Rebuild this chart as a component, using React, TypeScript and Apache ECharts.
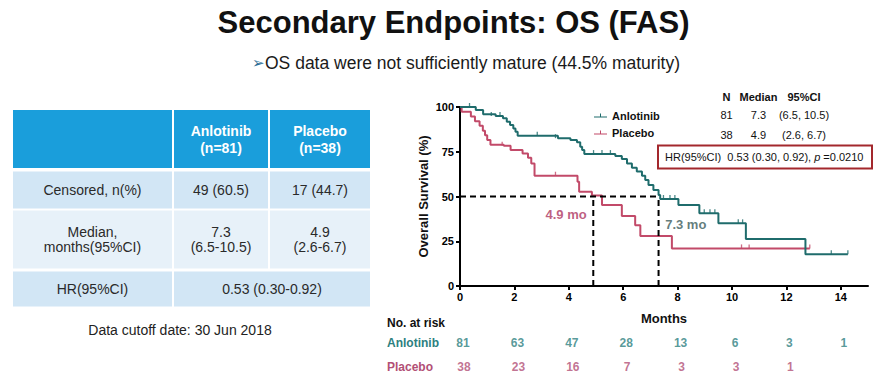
import React, { useEffect, useRef } from "react";
import * as echarts from "echarts";

const FONT = '"Liberation Sans", Arial, Helvetica, sans-serif';

// Kaplan-Meier curves [months, survival %]
const anlotinibCurve: number[][] = [
  [0, 100], [0.58, 98.3], [0.85, 96], [1.31, 95], [1.58, 93.7], [1.72, 91.8], [1.84, 90],
  [1.96, 88], [2.04, 86.2], [2.12, 84], [3.6, 82.6], [4.06, 81.6], [4.3, 80.3], [4.42, 77.8],
  [4.49, 76], [4.57, 73.7], [5.71, 72.6], [5.95, 71], [6.14, 68.5], [6.32, 66], [6.5, 63.9],
  [6.69, 61.6], [6.81, 59.2], [6.93, 56.4], [7.11, 53.6], [7.3, 50.8], [7.36, 48.6],
  [8.03, 45.2], [8.8, 40.6], [9.5, 35], [10.51, 26.3], [12.7, 17.7], [14.26, 17.7],
];
const placeboCurve: number[][] = [
  [0, 100], [0.06, 97.4], [0.4, 94.7], [0.55, 92.1], [0.72, 89.5], [0.84, 86.8], [0.92, 84.2],
  [1.0, 81.6], [1.12, 78.9], [1.61, 78.4], [1.86, 76], [2.3, 74], [2.5, 71.7], [2.62, 68.5],
  [2.74, 61.6], [4.32, 58.3], [4.38, 52.7], [4.85, 50.5], [5.22, 45.2], [5.95, 39.1],
  [6.44, 34], [6.63, 27.9], [7.79, 21], [12.86, 21],
];
// censoring marks
const anlotinibCensored: number[][] = [
  [0.35, 100], [1.15, 95], [1.47, 95], [2.84, 84], [3.51, 82.6], [4.91, 73.7], [5.22, 73.7],
  [5.53, 73.7], [7.48, 48.6], [7.72, 48.6], [7.9, 48.6], [8.98, 40.6], [9.19, 40.6],
  [9.37, 40.6], [10.23, 35], [10.39, 35], [13.65, 17.7], [14.26, 17.7],
];
const placeboCensored: number[][] = [
  [1.55, 78.4], [3.51, 61.6], [10.35, 21], [10.63, 21], [12.86, 21],
];
// medians
const medianAnlotinib = 7.3;
const medianPlacebo = 4.9;

// at-risk table
const riskTimes = [0, 2, 4, 6, 8, 10, 12, 14];
const anlotinibRisk = [81, 63, 47, 28, 13, 6, 3, 1];
const placeboRisk = [38, 23, 16, 7, 3, 3, 1];

// summary table (left)
const tableHeader = ["", "Anlotinib\n(n=81)", "Placebo\n(n=38)"];
const tableRows = [
  ["Censored, n(%)", "49 (60.5)", "17 (44.7)"],
  ["Median,\nmonths(95%CI)", "7.3\n(6.5-10.5)", "4.9\n(2.6-6.7)"],
  ["HR(95%CI)", "0.53 (0.30-0.92)"],
];
const statsHeader = ["N", "Median", "95%CI"];
const statsRows = [
  ["81", "7.3", "(6.5, 10.5)"],
  ["38", "4.9", "(2.6, 6.7)"],
];

const TEAL = "#1f6c6c";
const RED = "#c24a69";

function txt(text: string, x: number, y: number, size: number, opts: any = {}) {
  return {
    type: "text",
    silent: true,
    style: {
      text,
      x,
      y,
      font: `${opts.weight || "normal"} ${size}px ${opts.family || FONT}`,
      fill: opts.color || "#222",
      align: opts.align || "center",
      textAlign: opts.align || "center",
      verticalAlign: "middle",
      textVerticalAlign: "middle",
      lineHeight: opts.lineHeight,
      rich: opts.rich,
    },
    z: 10,
  };
}

export default function App() {
  const ref = useRef<HTMLDivElement>(null);

  useEffect(() => {
    if (!ref.current) return;
    const chart = echarts.init(ref.current, undefined, { renderer: "svg" });

    const colX = [[13, 172], [174, 268], [270, 370]];
    const rowY = [[110, 58], [171.5, 37], [210.5, 58], [271.5, 35]];
    const graphics: any[] = [];
    // header cells
    colX.forEach(([a, b], i) => {
      graphics.push({
        type: "rect",
        silent: true,
        shape: { x: a, y: rowY[0][0], width: b - a, height: rowY[0][1] },
        style: { fill: "#1a9edb" },
      });
      if (tableHeader[i])
        graphics.push(txt(tableHeader[i], (a + b) / 2, rowY[0][0] + rowY[0][1] / 2, 14, { weight: "bold", color: "#fff", lineHeight: 17 }));
    });
    tableRows.forEach((row, r) => {
      const [y, h] = rowY[r + 1];
      const fill = r === 1 ? "#e7f1f9" : "#d2e6f5";
      const cols = row.length === 2 ? [colX[0], [colX[1][0], colX[2][1]]] : colX;
      cols.forEach(([a, b], i) => {
        graphics.push({
          type: "rect",
          silent: true,
          shape: { x: a, y, width: b - a, height: h },
          style: { fill },
        });
        graphics.push(txt(row[i], (a + b) / 2, y + h / 2, 14, { color: "#2a2a2a", lineHeight: 15 }));
      });
    });
    graphics.push(txt("Data cutoff date: 30 Jun 2018", 180, 330, 14, { color: "#222" }));

    // title and subtitle
    graphics.push(txt("Secondary Endpoints: OS (FAS)", 453.5, 22, 31, { weight: "bold", color: "#111" }));
    graphics.push(txt("\u27A2", 252, 63, 15, { align: "left", color: "#2b6c94", family: '"DejaVu Sans", sans-serif' }));
    graphics.push(txt("OS data were not sufficiently mature (44.5% maturity)", 265, 63, 17.5, { align: "left", color: "#1a1a1a" }));

    // stats table in chart
    const sx = [726.5, 758.5, 804];
    statsHeader.forEach((t, i) => graphics.push(txt(t, sx[i], 97, 11, { weight: "bold", color: "#111" })));
    statsRows.forEach((row, r) =>
      row.forEach((t, i) => graphics.push(txt(t, sx[i], 115 + r * 19.5, 11, { color: "#111" })))
    );
    // HR box
    graphics.push({
      type: "rect",
      silent: true,
      shape: { x: 658, y: 145.5, width: 214, height: 23 },
      style: { fill: "#fff", stroke: "#a3282d", lineWidth: 2 },
      z: 9,
    });
    graphics.push(
      txt("{n|HR(95%CI)  0.53 (0.30, 0.92), }{i|p}{n| =0.0210}", 665, 157, 11, {
        align: "left",
        color: "#111",
        rich: {
          n: { fontSize: 11, fontFamily: FONT, fill: "#111", color: "#111" },
          i: { fontSize: 11, fontFamily: FONT, fontStyle: "italic", fill: "#111", color: "#111" },
        },
      })
    );
    graphics.push(txt("No. at risk", 387, 323, 12, { align: "left", weight: "bold", color: "#111" }));

    const dash = { color: "#000", width: 2, type: [6, 4] as any };
    const tickSym = { symbol: "rect", symbolSize: [1.3, 4], symbolOffset: [0, -2] };

    const option: any = {
      animation: false,
      backgroundColor: "#fff",
      textStyle: { fontFamily: FONT },
      graphic: graphics,
      legend: {
        data: ["Anlotinib", "Placebo"],
        orient: "vertical",
        left: 589,
        top: 105,
        itemGap: 6,
        itemWidth: 13,
        itemHeight: 5,
        icon: "path://M0,4 L13,4 L13,5 L0,5 Z M6,1 L7,1 L7,4 L6,4 Z",
        textStyle: { fontSize: 11, fontWeight: "bold", color: "#111", fontFamily: FONT },
        selectedMode: false,
      },
      grid: [
        { left: 460, right: 12, top: 107, height: 179 },
        { left: 460, right: 12, top: 331, height: 48 },
      ],
      xAxis: [
        {
          gridIndex: 0,
          type: "value",
          min: 0,
          max: 15,
          interval: 2,
          name: "Months",
          nameLocation: "middle",
          nameGap: 26,
          nameTextStyle: { fontSize: 13, fontWeight: "bold", color: "#111", fontFamily: FONT },
          axisLine: { show: true, lineStyle: { color: "#000", width: 2 } },
          axisTick: { show: true, length: 4, lineStyle: { color: "#000", width: 2 } },
          axisLabel: { fontSize: 11, fontWeight: "bold", color: "#000", margin: 5, showMaxLabel: false, fontFamily: FONT },
          splitLine: { show: false },
        },
        { gridIndex: 1, type: "value", min: 0, max: 15, show: false },
      ],
      yAxis: [
        {
          gridIndex: 0,
          type: "value",
          min: 0,
          max: 100,
          interval: 25,
          name: "Overall Survival (%)",
          nameLocation: "middle",
          nameGap: 30,
          nameRotate: 90,
          nameTextStyle: { fontSize: 13, fontWeight: "bold", color: "#111", fontFamily: FONT },
          axisLine: { show: true, lineStyle: { color: "#000", width: 2 } },
          axisTick: { show: true, length: 4, lineStyle: { color: "#000", width: 2 } },
          axisLabel: { fontSize: 11, fontWeight: "bold", color: "#000", margin: 6, fontFamily: FONT },
          splitLine: { show: false },
        },
        {
          gridIndex: 1,
          type: "category",
          data: ["Anlotinib", "Placebo"],
          inverse: true,
          axisLine: { show: false },
          axisTick: { show: false },
          axisLabel: {
            align: "left",
            margin: 73,
            formatter: (v: string) => `{${v === "Anlotinib" ? "a" : "p"}|${v}}`,
            rich: {
              a: { color: "#2d8080", fontSize: 12, fontWeight: "bold", fontFamily: FONT },
              p: { color: "#b24f76", fontSize: 12, fontWeight: "bold", fontFamily: FONT },
            },
          },
          splitLine: { show: false },
        },
      ],
      series: [
        {
          name: "Anlotinib",
          type: "line",
          step: "end",
          symbol: "none",
          data: anlotinibCurve,
          lineStyle: { color: TEAL, width: 2 },
          itemStyle: { color: TEAL },
          z: 3,
        },
        {
          name: "Placebo",
          type: "line",
          step: "end",
          symbol: "none",
          data: placeboCurve,
          lineStyle: { color: RED, width: 2 },
          itemStyle: { color: RED },
          z: 2,
        },
        { type: "scatter", ...tickSym, data: anlotinibCensored, itemStyle: { color: TEAL }, z: 3 },
        { type: "scatter", ...tickSym, data: placeboCensored, itemStyle: { color: RED }, z: 2 },
        { type: "line", symbol: "none", data: [[0, 50], [medianAnlotinib, 50]], lineStyle: dash, z: 5 },
        { type: "line", symbol: "none", data: [[medianPlacebo, 0], [medianPlacebo, 50]], lineStyle: dash, z: 5 },
        { type: "line", symbol: "none", data: [[medianAnlotinib, 0], [medianAnlotinib, 50]], lineStyle: dash, z: 5 },
        {
          type: "scatter",
          symbolSize: 0,
          data: [
            { value: [3.9, 39.7], label: { color: "#ad3560" } },
            { value: [8.3, 34.6], label: { color: "#3b5b5b" } },
          ],
          label: {
            show: true,
            position: "inside",
            fontSize: 13,
            fontWeight: "bold",
            fontFamily: FONT,
            formatter: (p: any) => (p.dataIndex === 0 ? `${medianPlacebo} mo` : `${medianAnlotinib} mo`),
          },
          z: 6,
        },
        {
          type: "scatter",
          xAxisIndex: 1,
          yAxisIndex: 1,
          symbolSize: 0,
          data: anlotinibRisk.map((v, i) => [riskTimes[i], "Anlotinib", v]),
          label: {
            show: true,
            position: "inside",
            offset: [3, 0],
            fontSize: 12,
            fontWeight: "bold",
            color: "#2d8080",
            fontFamily: FONT,
            formatter: (p: any) => String(p.value[2]),
          },
        },
        {
          type: "scatter",
          xAxisIndex: 1,
          yAxisIndex: 1,
          symbolSize: 0,
          data: placeboRisk.map((v, i) => [riskTimes[i], "Placebo", v]),
          label: {
            show: true,
            position: "inside",
            offset: [4, 0],
            fontSize: 12,
            fontWeight: "bold",
            color: "#b24f76",
            fontFamily: FONT,
            formatter: (p: any) => String(p.value[2]),
          },
        },
      ],
    };
    chart.setOption(option);
    return () => chart.dispose();
  }, []);

  return (
    <div
      ref={ref}
      style={{ position: "fixed", left: 0, top: 0, width: 880, height: 382, background: "#fff" }}
    />
  );
}
